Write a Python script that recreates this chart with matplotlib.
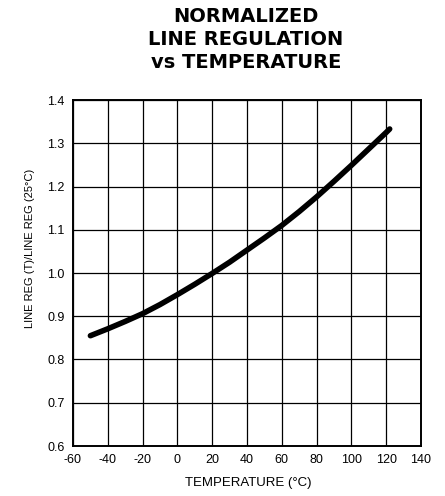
import matplotlib
matplotlib.use("Agg")
import matplotlib.pyplot as plt

temps = [-50, -40, -30, -20, -10, 0, 10, 20, 30, 40, 50, 60, 70, 80, 90, 100, 110, 120, 122]
line_reg = [0.855, 0.871, 0.888, 0.906, 0.927, 0.950, 0.974, 0.999, 1.025, 1.053,
            1.081, 1.110, 1.142, 1.176, 1.212, 1.249, 1.287, 1.325, 1.333]
x_ticks = [-60, -40, -20, 0, 20, 40, 60, 80, 100, 120, 140]
y_ticks = [0.6, 0.7, 0.8, 0.9, 1.0, 1.1, 1.2, 1.3, 1.4]
title_lines = ["NORMALIZED", "LINE REGULATION", "vs TEMPERATURE"]

plt.rcParams['font.family'] = ['Liberation Sans', 'DejaVu Sans']

fig = plt.figure(figsize=(4.45, 4.96), dpi=100)
ax = fig.add_axes([73/445, 1-446/496, (421-73)/445, (446-100)/496])

ax.plot(temps, line_reg, color='black', lw=4.0, solid_capstyle='round',
        solid_joinstyle='round', zorder=3)

ax.set_xlim(-60, 140)
ax.set_ylim(0.6, 1.4)
ax.set_xticks(x_ticks)
ax.set_yticks(y_ticks)
ax.set_xticklabels([str(t) for t in x_ticks])
ax.set_yticklabels([f"{v:.1f}" for v in y_ticks])
ax.tick_params(length=0, labelsize=9, pad=6)
ax.grid(True, color='black', lw=0.9)
for s in ax.spines.values():
    s.set_linewidth(1.4)

fig.text(248/445, 1-483/496, "TEMPERATURE (°C)", ha='center', va='center', fontsize=9.5)
fig.text(30/445, 1-248/496, "LINE REG (T)/LINE REG (25°C)", ha='center', va='center',
         rotation=90, fontsize=8)

title_y = [17, 39.5, 62]
for t, yy in zip(title_lines, title_y):
    fig.text(246/445, 1-yy/496, t, ha='center', va='center',
             fontsize=14, fontweight='bold', family='DejaVu Sans')

fig.savefig("out.png", dpi=100)
